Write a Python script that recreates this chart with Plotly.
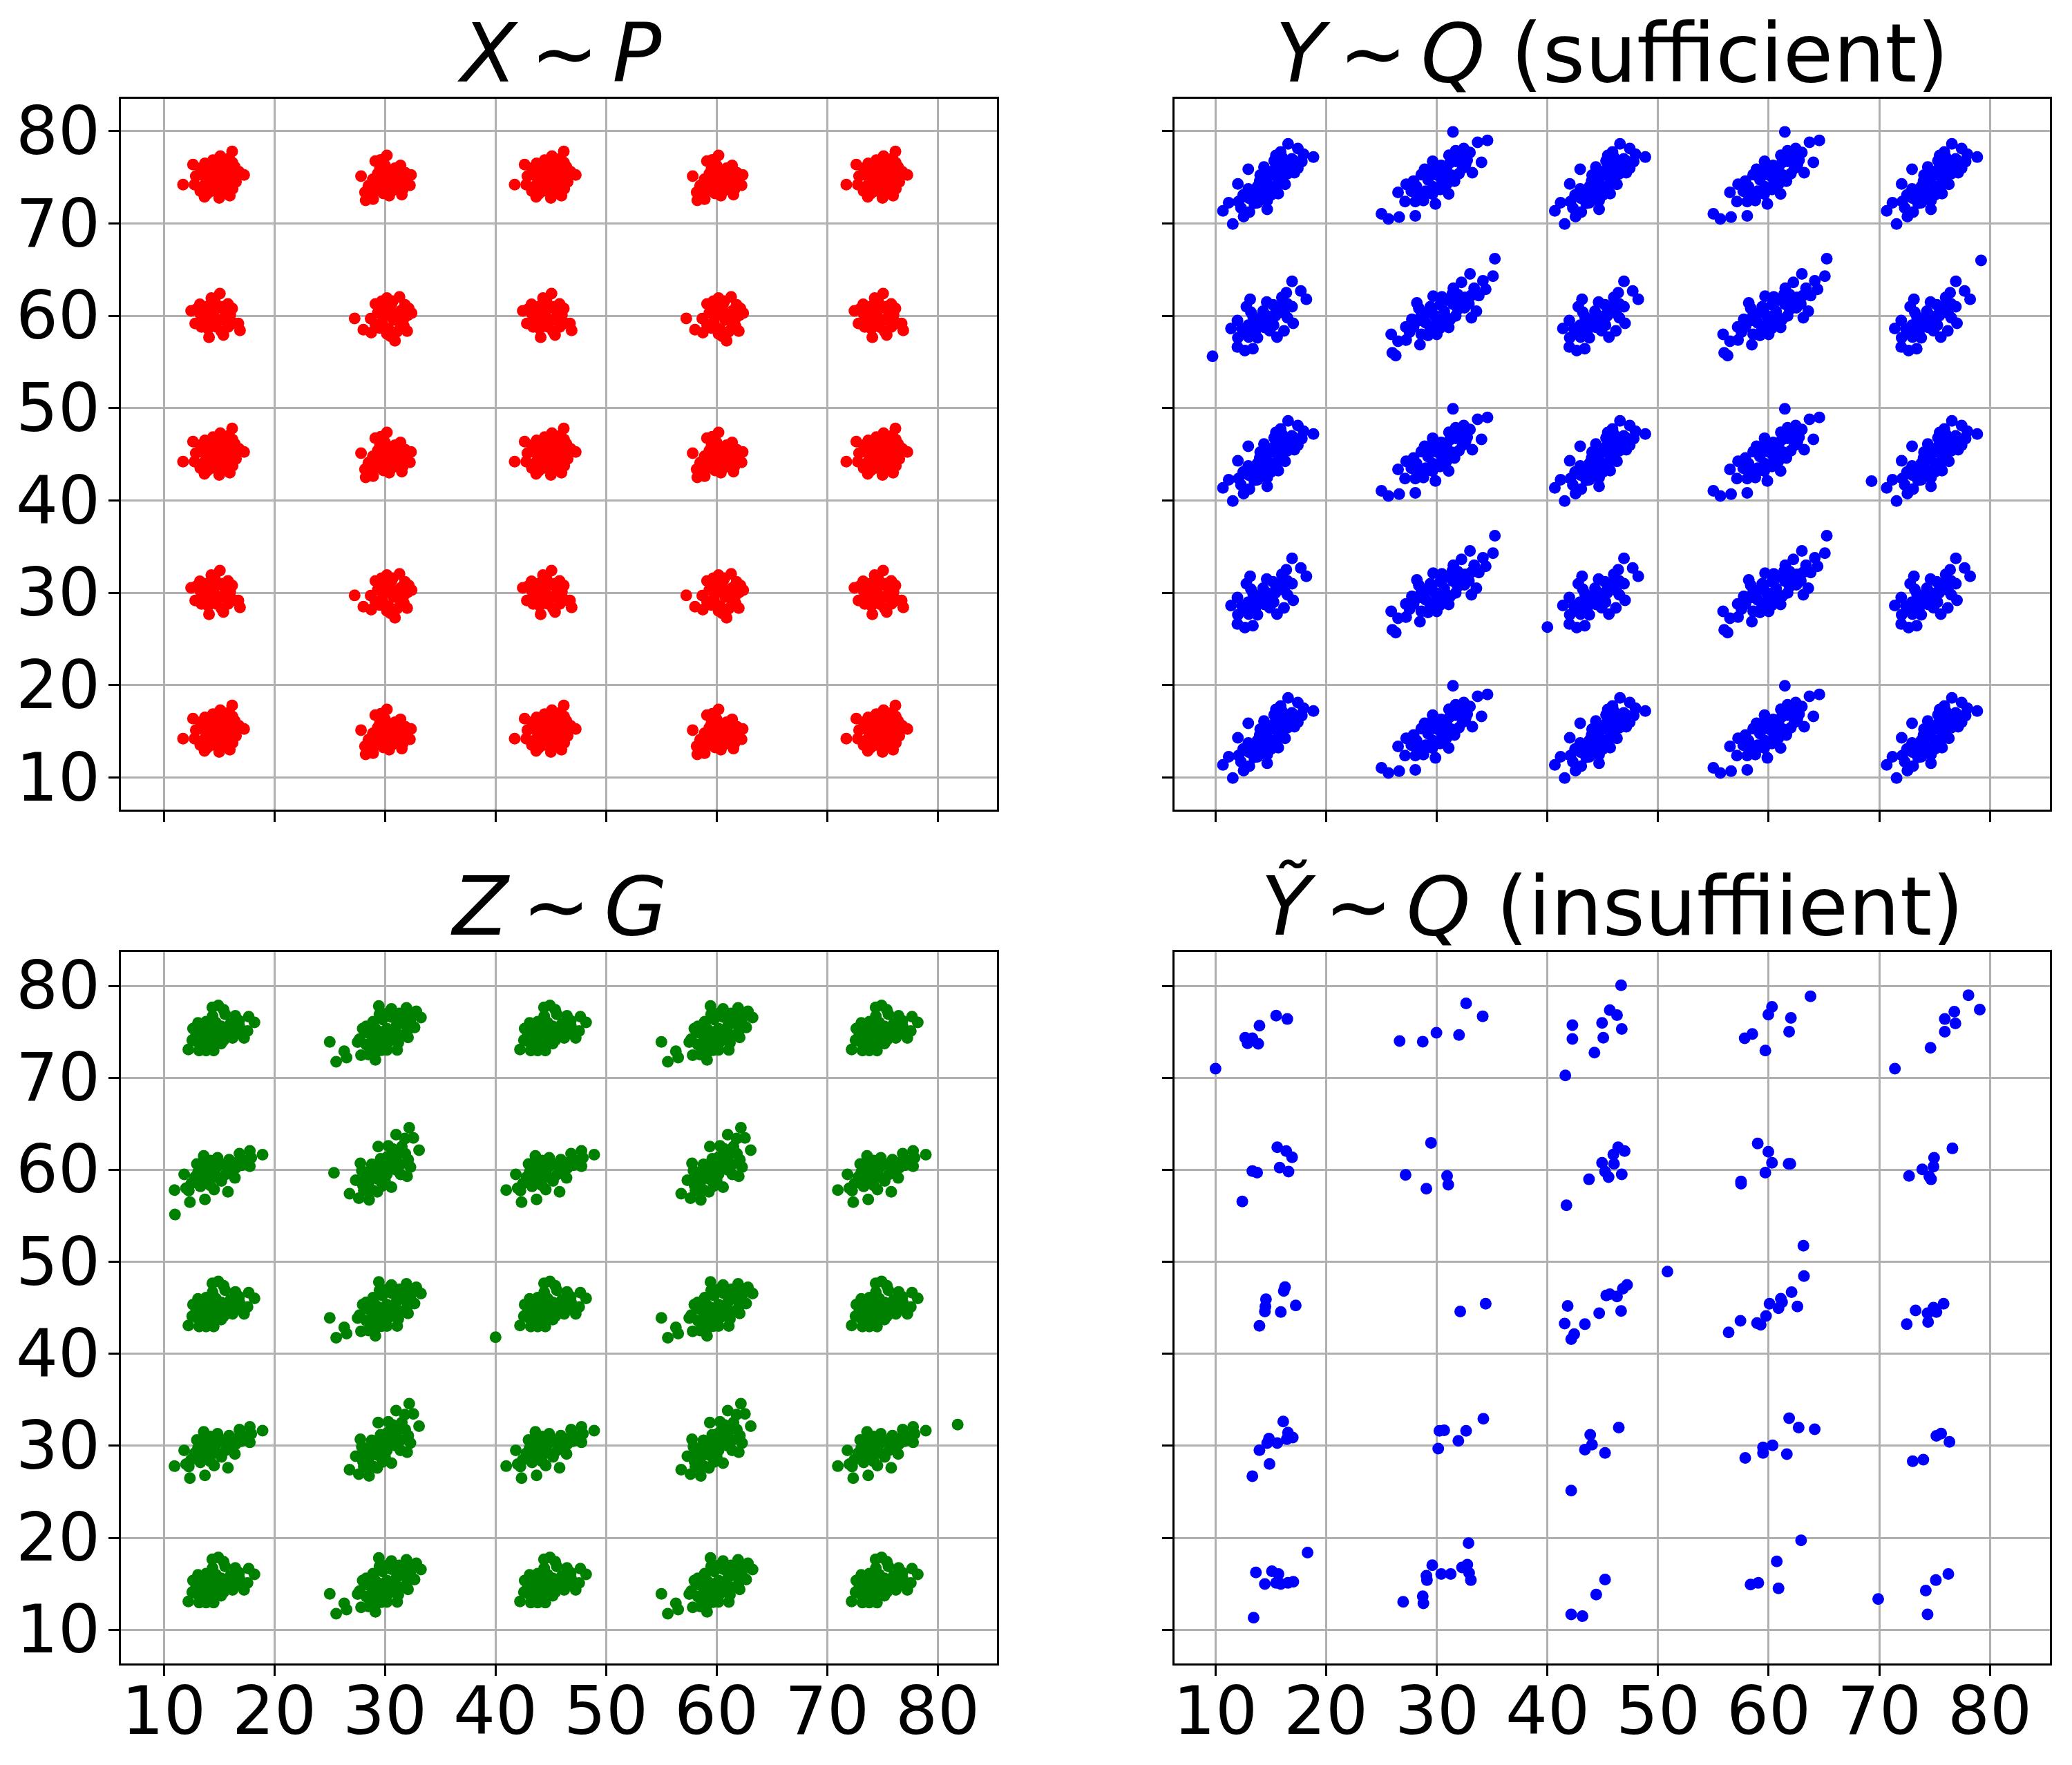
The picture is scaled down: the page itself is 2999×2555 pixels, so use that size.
import plotly.graph_objects as go

# cluster grid (same on both axes)
GRID = [15, 30, 45, 60, 75]

# X ~ P : four cluster shapes read around (15,75), (30,75), (15,60), (30,60)
P_A = [(11.73, 74.21), (12.63, 76.38), (16.17, 77.81), (15.9, 77.06), (17.25, 75.26), (16.42, 76.13),
       (13.67, 72.89), (15.0, 72.77), (15.96, 73.02), (12.77, 74.21), (12.88, 75.14), (14.44, 76.88),
       (13.71, 76.51), (15.17, 76.63), (16.52, 74.51), (16.21, 73.77), (13.29, 73.52), (13.71, 75.76),
       (14.54, 75.76), (15.38, 75.76), (14.13, 74.76), (14.96, 74.76), (15.79, 75.01), (13.71, 74.26),
       (14.54, 74.01), (15.38, 74.26), (14.75, 75.26), (15.58, 76.01), (14.33, 73.52),
       (13.4, 75.3), (13.9, 75.0), (14.2, 75.6), (14.8, 76.2), (15.2, 75.2), (15.7, 74.7), (16.0, 75.5),
       (14.0, 74.3), (14.9, 73.9), (15.6, 73.5), (13.9, 73.2), (16.2, 76.6), (15.1, 77.3), (14.4, 76.4),
       (13.3, 76.0), (16.8, 75.6)]
P_B = [(27.83, 75.14), (29.12, 76.76), (30.17, 77.38), (28.19, 73.39), (28.25, 72.52), (28.92, 72.64),
       (30.38, 73.02), (31.52, 73.14), (32.25, 74.14), (32.35, 75.26), (30.9, 76.0), (29.54, 76.0),
       (29.85, 73.27), (29.54, 74.76), (30.58, 75.01), (31.63, 74.89), (31.21, 74.01), (30.17, 74.01),
       (29.13, 74.01), (30.58, 75.76), (29.33, 75.39), (31.83, 75.51),
       (29.0, 73.4), (29.7, 73.6), (30.7, 73.6), (31.6, 73.7), (31.9, 74.4), (30.9, 74.4), (29.9, 74.5),
       (28.9, 74.8), (30.1, 75.4), (31.2, 75.6), (30.0, 76.3), (31.4, 76.3), (29.6, 76.9), (28.5, 74.1)]
P_C = [(12.46, 60.55), (13.25, 61.25), (14.29, 61.92), (15.06, 62.42), (16.17, 60.8), (16.73, 59.18),
       (16.88, 58.43), (15.38, 57.93), (14.08, 57.68), (12.83, 59.18), (13.4, 58.8), (15.8, 58.8),
       (13.71, 60.55), (14.75, 60.8), (15.58, 60.3), (14.13, 59.55), (15.17, 59.55), (14.33, 61.3),
       (15.79, 61.3), (14.75, 58.8), (13.5, 59.8),
       (13.3, 60.2), (13.9, 61.0), (14.6, 61.6), (15.3, 61.0), (16.0, 60.1), (15.7, 59.6), (14.5, 60.1),
       (14.0, 58.6), (15.2, 58.3), (16.3, 59.2), (12.9, 60.7), (14.6, 59.0)]
P_D = [(27.25, 59.73), (28.04, 58.5), (28.75, 58.18), (29.13, 61.3), (30.17, 61.92), (31.31, 62.05),
       (32.15, 60.8), (32.04, 60.05), (32.0, 58.35), (30.9, 57.31), (30.17, 58.05), (31.42, 58.8),
       (29.33, 60.3), (30.38, 60.8), (31.42, 60.55), (29.75, 59.3), (30.79, 59.55), (29.13, 59.05),
       (31.63, 59.55), (30.58, 61.3),
       (29.7, 61.6), (30.7, 61.6), (31.8, 61.2), (31.8, 59.9), (31.0, 60.2), (30.0, 60.0), (29.7, 60.8),
       (29.5, 58.7), (30.3, 58.6), (31.1, 58.3), (31.7, 58.9), (30.5, 57.8), (28.7, 59.7), (32.4, 60.3)]
P_EXTRA = []

# Y ~ Q (sufficient)
Q_A = [(10.67, 71.38), (11.19, 72.25), (11.56, 69.95), (12.54, 70.75), (12.08, 72.38), (13.06, 71.25),
       (12.02, 74.3), (12.96, 75.88), (14.38, 76.13), (14.67, 71.55), (13.79, 72.25), (16.56, 78.63),
       (17.44, 78.13), (17.96, 77.5), (18.85, 77.2), (15.46, 77.38), (15.88, 77.75), (17.13, 75.5),
       (17.44, 76.0), (16.29, 74.25), (15.67, 73.25), (12.96, 73.75), (13.79, 74.0), (14.63, 74.5),
       (15.25, 75.25), (15.88, 76.0), (16.29, 76.75), (13.58, 73.0), (14.42, 73.25), (15.04, 74.0),
       (15.46, 76.25), (16.71, 76.25), (14.04, 75.25), (13.0, 72.75), (14.67, 72.5),
       (12.5, 73.1), (13.3, 73.5), (14.0, 73.9), (14.4, 74.9), (14.9, 75.6), (15.5, 75.9), (16.1, 76.4),
       (16.9, 77.0), (13.5, 72.2), (14.1, 72.6), (15.0, 73.1), (15.6, 74.2), (16.0, 75.0), (16.5, 75.4),
       (17.1, 76.8), (12.3, 71.7), (14.0, 74.6), (15.3, 76.8), (16.0, 77.2), (17.8, 76.7)]
Q_B = [(25.0, 71.05), (25.63, 70.5), (26.6, 70.7), (28.06, 70.83), (26.5, 73.38), (27.23, 74.25),
       (27.13, 72.38), (28.06, 72.38), (28.79, 72.5), (29.88, 72.13), (31.08, 73.2), (30.46, 74.25),
       (31.46, 79.93), (33.69, 78.8), (34.58, 79.0), (34.04, 76.63), (33.21, 75.5), (32.44, 78.13),
       (32.75, 76.88), (31.71, 77.88), (29.63, 76.75), (28.9, 75.88), (28.17, 74.0), (29.21, 74.75),
       (30.04, 75.25), (30.88, 76.0), (31.71, 76.75), (29.63, 74.0), (30.46, 74.75), (31.29, 75.25),
       (28.58, 73.25), (29.63, 76.0), (32.33, 76.0),
       (27.7, 73.5), (28.3, 73.0), (29.0, 73.5), (29.6, 73.2), (30.3, 73.7), (30.9, 74.3), (31.6, 74.6),
       (32.0, 75.4), (32.6, 76.4), (31.2, 76.6), (30.4, 76.3), (29.3, 75.8), (28.6, 75.3), (27.9, 74.6),
       (31.1, 77.4), (32.2, 77.2), (33.0, 77.7), (29.9, 75.6), (28.8, 72.9), (30.8, 75.6)]
Q_C = [(11.98, 56.63), (12.65, 56.25), (13.38, 56.45), (12.02, 57.63), (11.4, 58.63), (11.98, 59.5),
       (12.79, 61.0), (13.13, 61.8), (16.92, 63.75), (17.71, 62.7), (18.21, 61.8), (17.02, 59.2),
       (16.92, 61.0), (15.56, 57.7), (16.19, 58.38), (13.79, 57.63), (14.63, 61.5), (16.0, 62.0),
       (12.96, 59.0), (13.79, 59.5), (14.63, 60.0), (15.46, 60.5), (15.88, 61.0), (14.42, 58.75),
       (15.25, 59.0), (13.58, 58.25), (12.75, 58.25), (15.0, 59.75),
       (13.0, 57.7), (13.6, 58.9), (14.1, 59.6), (14.8, 59.3), (15.4, 60.0), (16.2, 60.3), (16.5, 61.3),
       (15.2, 61.2), (14.3, 60.5), (13.4, 59.9), (12.4, 58.6), (14.9, 58.4), (16.5, 59.8), (13.2, 60.4),
       (16.4, 62.5)]
Q_D = [(25.88, 58.0), (25.98, 56.0), (26.29, 55.7), (26.5, 57.25), (27.23, 57.38), (27.54, 58.25),
       (28.48, 56.88), (29.21, 57.88), (27.75, 59.63), (28.38, 60.83), (29.67, 62.13), (30.46, 62.05),
       (31.4, 62.38), (32.23, 63.63), (33.0, 64.55), (34.17, 63.8), (35.25, 66.2), (35.08, 64.3),
       (34.42, 62.88), (33.58, 60.5), (33.13, 59.8), (32.5, 60.88), (31.08, 58.75), (30.25, 58.63),
       (29.0, 60.25), (29.83, 60.0), (30.67, 60.5), (31.5, 61.25), (29.0, 59.25), (29.83, 59.0),
       (28.38, 59.5), (31.71, 60.0), (32.54, 62.0), (33.38, 63.0), (29.42, 61.0),
       (28.6, 58.0), (29.4, 58.5), (30.5, 59.2), (31.2, 59.6), (31.9, 60.7), (32.9, 61.3), (33.1, 62.2),
       (31.9, 62.3), (30.9, 61.7), (30.3, 61.2), (29.5, 60.6), (28.6, 60.1), (27.9, 58.8), (27.2, 58.8),
       (30.0, 58.0), (32.0, 61.5), (33.8, 62.2), (31.5, 63.0), (28.2, 61.4), (30.8, 59.9)]
Q_EXTRA = [(9.73, 55.63), (69.3, 42.1), (79.2, 66.0), (40.0, 26.3)]

# Z ~ G
G_A = [(12.21, 73.08), (13.19, 72.96), (13.81, 72.96), (14.5, 72.96), (12.56, 74.09), (12.63, 75.35),
       (13.08, 75.97), (13.81, 76.1), (14.38, 77.66), (14.92, 77.86), (15.54, 76.9), (16.46, 76.73),
       (17.67, 76.65), (18.19, 76.03), (17.56, 75.09), (17.25, 74.34), (16.21, 74.34), (15.17, 73.71),
       (13.5, 74.84), (14.33, 75.09), (15.17, 75.6), (16.0, 75.85), (16.83, 75.6), (13.92, 74.09),
       (14.75, 74.34), (15.58, 74.84), (16.42, 75.09), (13.08, 73.84),
       (13.3, 74.4), (13.6, 75.6), (14.1, 75.8), (14.7, 76.0), (15.0, 75.0), (15.8, 75.2), (16.2, 75.8),
       (16.8, 76.2), (17.0, 74.9), (15.9, 74.6), (15.4, 74.1), (14.3, 73.6), (13.6, 73.3), (12.9, 74.6),
       (14.4, 76.7), (15.4, 77.4)]
G_B = [(25.0, 73.91), (25.58, 71.75), (26.31, 72.88), (26.52, 72.2), (27.52, 73.89), (27.83, 72.45),
       (28.5, 72.53), (29.13, 71.95), (29.13, 72.7), (29.44, 77.81), (30.58, 77.48), (31.94, 77.6),
       (32.83, 77.23), (33.25, 76.55), (32.67, 75.47), (32.08, 74.39), (31.1, 73.03), (30.17, 73.03),
       (27.98, 75.35), (28.92, 76.1), (29.75, 76.35), (30.58, 76.6), (31.42, 76.6), (29.33, 75.1),
       (30.17, 75.35), (31.0, 75.6), (31.83, 75.85), (28.92, 74.09), (29.75, 74.09), (30.58, 74.34),
       (31.42, 74.59), (28.5, 74.84),
       (28.3, 73.6), (29.0, 73.4), (29.7, 73.0), (30.3, 73.9), (31.2, 73.8), (32.0, 75.1), (32.3, 76.3),
       (31.3, 77.0), (30.2, 77.0), (29.5, 76.9), (29.0, 75.5), (30.0, 74.9), (30.9, 75.1), (28.3, 75.6),
       (27.7, 74.2), (31.9, 76.9)]
G_C = [(10.96, 57.79), (12.35, 56.48), (13.71, 56.78), (11.83, 59.5), (12.25, 57.74), (12.98, 60.63),
       (13.6, 61.51), (14.85, 61.31), (15.79, 57.61), (16.83, 61.76), (17.77, 62.06), (18.92, 61.64),
       (17.77, 60.38), (16.42, 59.12), (14.54, 57.86), (13.08, 59.75), (13.92, 60.0), (14.75, 60.25),
       (15.58, 60.5), (16.42, 60.75), (13.08, 58.74), (13.92, 58.99), (14.75, 59.25), (15.58, 59.5),
       (12.46, 58.49), (17.04, 60.5),
       (13.6, 59.4), (14.3, 59.7), (15.0, 60.8), (15.9, 61.1), (16.5, 60.2), (17.3, 61.0), (16.0, 59.8),
       (15.2, 58.8), (14.2, 58.3), (13.3, 58.2), (12.8, 59.2), (13.6, 60.6), (14.2, 61.0), (17.9, 61.3),
       (12.0, 58.0)]
G_D = [(26.79, 57.41), (27.63, 56.91), (28.56, 56.73), (27.35, 58.87), (27.77, 60.7), (29.38, 62.52),
       (31.0, 63.82), (32.19, 64.58), (32.56, 63.47), (33.08, 62.14), (32.0, 59.3), (30.58, 58.11),
       (30.69, 62.26), (31.52, 62.52), (28.5, 59.75), (29.33, 60.25), (30.17, 60.75), (31.0, 61.26),
       (31.83, 61.76), (28.5, 58.49), (29.33, 58.99), (30.17, 59.5), (31.0, 60.0), (28.08, 57.74),
       (28.92, 57.74), (29.75, 58.24),
       (28.2, 59.0), (28.9, 59.4), (29.7, 59.7), (30.6, 60.3), (31.4, 60.6), (32.1, 61.1), (31.0, 62.0),
       (30.2, 61.4), (29.6, 61.2), (28.8, 60.6), (28.0, 58.3), (29.3, 57.6), (30.0, 58.8), (31.4, 59.5),
       (32.3, 60.3), (30.3, 62.6), (31.8, 63.4), (27.9, 59.9)]
G_EXTRA = [(11.0, 55.14), (25.38, 59.67), (81.8, 32.3), (40.0, 41.8)]

# Y~ ~ Q (insufficient): every point read individually
QT = [
    # row 75
    (10.0, 70.99), (12.68, 74.35), (12.9, 73.75), (13.33, 74.29), (13.86, 73.69), (13.97, 75.67),
    (15.48, 76.75), (16.49, 76.39),
    (26.64, 73.99), (28.73, 73.93), (29.97, 74.89), (32.01, 74.65), (32.65, 78.08), (34.15, 76.69),
    (41.62, 70.26), (42.26, 75.73), (42.26, 74.23), (44.25, 72.73), (44.94, 75.97), (45.05, 74.35),
    (45.64, 77.36), (46.29, 76.81), (46.72, 75.31), (46.66, 80.06),
    (57.83, 74.29), (58.52, 74.77), (59.7, 72.97), (59.97, 76.87), (60.3, 77.72), (61.85, 75.01),
    (62.01, 76.51), (63.78, 78.86),
    (71.41, 70.99), (74.63, 73.27), (75.92, 75.01), (75.92, 76.39), (76.88, 75.91), (76.78, 77.18),
    (78.06, 78.98), (79.08, 77.42),
    # row 60
    (12.42, 56.56), (13.33, 59.87), (13.76, 59.69), (15.58, 62.45), (15.8, 60.23), (16.39, 62.03),
    (16.6, 59.81), (16.92, 61.37),
    (27.18, 59.45), (29.06, 57.95), (29.48, 62.93), (30.93, 59.33), (31.04, 58.37),
    (41.72, 56.14), (43.76, 58.97), (44.94, 60.77), (45.21, 59.81), (45.53, 59.21), (45.96, 61.67),
    (46.02, 60.65), (46.39, 62.45), (46.72, 59.51), (46.98, 62.03),
    (57.5, 58.49), (57.5, 58.73), (59.01, 62.87), (59.7, 59.69), (59.97, 61.97), (60.3, 60.77),
    (61.8, 60.65), (61.96, 60.65),
    (72.69, 59.33), (73.88, 60.05), (74.52, 59.27), (74.68, 58.97), (74.9, 60.35), (74.95, 61.31),
    (76.61, 62.33),
    # row 45
    (13.97, 43.04), (14.46, 44.6), (14.51, 45.14), (14.56, 45.93), (15.9, 44.54), (16.17, 46.83),
    (16.28, 47.25), (17.25, 45.26),
    (32.12, 44.6), (34.42, 45.44),
    (41.56, 43.28), (41.83, 45.2), (42.15, 41.6), (42.42, 42.14), (43.39, 43.22), (44.68, 44.42),
    (45.32, 46.35), (45.64, 46.47), (46.29, 46.23), (46.66, 44.66), (46.82, 47.07), (47.2, 47.49),
    (50.85, 48.93),
    (56.38, 42.32), (57.45, 43.58), (58.95, 43.34), (59.28, 43.16), (59.76, 44.12), (60.08, 45.44),
    (60.89, 44.96), (61.1, 45.99), (61.21, 45.62), (62.07, 46.71), (62.6, 45.14), (63.19, 48.45),
    (63.14, 51.76),
    (72.48, 43.22), (73.28, 44.72), (74.36, 44.42), (74.41, 43.46), (74.9, 45.02), (75.16, 44.54),
    (75.81, 45.44),
    # row 30
    (13.33, 26.7), (13.97, 29.52), (14.67, 30.3), (14.88, 28.02), (14.83, 30.78), (15.58, 30.3),
    (16.12, 32.64), (16.44, 30.72), (16.55, 31.44), (16.98, 30.9),
    (30.13, 29.7), (30.24, 31.62), (30.67, 31.68), (31.95, 30.54), (32.65, 31.62), (34.21, 32.94),
    (42.15, 25.13), (43.39, 29.58), (43.87, 31.2), (44.03, 30.12), (45.21, 29.22), (46.45, 31.98),
    (57.88, 28.68), (59.49, 29.82), (59.49, 29.22), (60.35, 30.06), (61.64, 29.1), (61.85, 33.0),
    (62.71, 31.98), (64.16, 31.8),
    (73.02, 28.32), (73.98, 28.5), (75.16, 31.08), (75.59, 31.32), (76.34, 30.42),
    # row 15
    (13.44, 11.31), (13.65, 16.24), (14.46, 14.98), (15.1, 16.36), (15.48, 15.1), (15.69, 16.06),
    (15.9, 14.98), (16.55, 15.1), (17.03, 15.22), (18.32, 18.4),
    (26.96, 13.05), (28.73, 13.65), (28.79, 12.87), (29.06, 15.88), (29.11, 15.4), (29.59, 17.02),
    (30.4, 16.06), (31.26, 16.06), (32.28, 16.78), (32.76, 17.08), (32.87, 19.42), (33.08, 15.4),
    (32.92, 16.18),
    (42.15, 11.67), (43.17, 11.49), (44.41, 13.83), (45.21, 15.46),
    (58.36, 14.92), (59.06, 15.1), (60.73, 17.44), (60.89, 14.5), (62.93, 19.72),
    (69.9, 13.35), (74.2, 14.26), (74.36, 11.67), (75.11, 15.4), (76.24, 16.06),
]

TICKS = [10, 20, 30, 40, 50, 60, 70, 80]
TICK_TEXT = [str(t) for t in TICKS]
SIM = "\u2006∼\u2006"
TITLES = ["<i>X</i>" + SIM + "<i>P</i>", "<i>Y</i>" + SIM + "<i>Q</i> (sufficient)",
          "<i>Z</i>" + SIM + "<i>G</i>", "<i>Ỹ</i>" + SIM + "<i>Q</i> (insuffiient)"]


def spread(a, b, c, d, extra):
    """Place the four read cluster shapes over the 5x5 grid."""
    shapes = {(0, 0): (15, 75, a), (1, 0): (30, 75, b), (0, 1): (15, 60, c), (1, 1): (30, 60, d)}
    xs, ys = [], []
    for i, cx in enumerate(GRID):
        for j, cy in enumerate(GRID):
            tx, ty, pts = shapes[(i % 2, (len(GRID) - 1 - j) % 2)]
            for x, y in pts:
                xs.append(cx + x - tx)
                ys.append(cy + y - ty)
    for x, y in extra:
        xs.append(x)
        ys.append(y)
    return xs, ys


px, py = spread(P_A, P_B, P_C, P_D, P_EXTRA)
qx, qy = spread(Q_A, Q_B, Q_C, Q_D, Q_EXTRA)
gx, gy = spread(G_A, G_B, G_C, G_D, G_EXTRA)
tx = [p[0] for p in QT]
ty = [p[1] for p in QT]

# page is 2999x2555; the html body keeps an 8px margin around the figure
PAD = 8
W, H = 2999 - 2 * PAD, 2555 - 2 * PAD


def xdom(left, right):
    return [(left - PAD) / W, (right - PAD) / W]


def ydom(top, bottom):
    return [1 - (bottom - PAD) / H, 1 - (top - PAD) / H]


COL1, COL2 = xdom(175.2, 1443.4), xdom(1700.1, 2966.7)
ROW1, ROW2 = ydom(143.3, 1171.7), ydom(1378.3, 2408.3)
XR1, XR2 = [6.12, 85.38], [6.30, 85.40]
YR1, YR2 = [6.55, 83.49], [6.32, 83.66]

fig = go.Figure()
for n, (x, y, col) in enumerate([(px, py, "#ff0000"), (qx, qy, "#0000ff"),
                                 (gx, gy, "#008000"), (tx, ty, "#0000ff")]):
    ax = "" if n == 0 else str(n + 1)
    fig.add_trace(go.Scatter(x=x, y=y, mode="markers", xaxis="x" + ax, yaxis="y" + ax,
                             marker=dict(size=17, color=col, line=dict(width=0)),
                             showlegend=False))

axis = dict(
    showgrid=True, gridcolor="#b0b0b0", gridwidth=3,
    showline=True, linecolor="black", linewidth=3.3, mirror=True,
    ticks="outside", ticklen=15, tickwidth=3.3, tickcolor="black",
    tickmode="array", tickvals=TICKS, zeroline=False, showticklabels=False,
)

fig.update_layout(
    width=W, height=H,
    margin=dict(l=0, r=0, t=0, b=0),
    paper_bgcolor="white", plot_bgcolor="white",
    font=dict(family="DejaVu Sans", color="black"),
    xaxis=dict(axis, domain=COL1, range=XR1, anchor="y"),
    yaxis=dict(axis, domain=ROW1, range=YR1, anchor="x"),
    xaxis2=dict(axis, domain=COL2, range=XR2, anchor="y2"),
    yaxis2=dict(axis, domain=ROW1, range=YR1, anchor="x2"),
    xaxis3=dict(axis, domain=COL1, range=XR1, anchor="y3"),
    yaxis3=dict(axis, domain=ROW2, range=YR2, anchor="x3"),
    xaxis4=dict(axis, domain=COL2, range=XR2, anchor="y4"),
    yaxis4=dict(axis, domain=ROW2, range=YR2, anchor="x4"),
)

tick_font = dict(family="DejaVu Sans", size=96, color="black")
# y tick labels on the left column, x tick labels on the bottom row
for yref, dom in [("y", COL1), ("y3", COL1)]:
    for v, t in zip(TICKS, TICK_TEXT):
        fig.add_annotation(text=t, xref="paper", yref=yref, x=dom[0], y=v,
                           xanchor="right", yanchor="middle", xshift=-28,
                           showarrow=False, font=tick_font)
for xref, dom in [("x3", ROW2), ("x4", ROW2)]:
    for v, t in zip(TICKS, TICK_TEXT):
        fig.add_annotation(text=t, xref=xref, yref="paper", x=v, y=dom[0],
                           xanchor="center", yanchor="top", yshift=-11,
                           showarrow=False, font=tick_font)

for title, dom_x, dom_y in zip(TITLES, [COL1, COL2, COL1, COL2], [ROW1, ROW1, ROW2, ROW2]):
    fig.add_annotation(text=title, xref="paper", yref="paper",
                       x=(dom_x[0] + dom_x[1]) / 2, y=dom_y[1],
                       xanchor="center", yanchor="bottom", yshift=-5, showarrow=False,
                       font=dict(family="DejaVu Sans", size=118, color="black"))

fig.write_html("out.html")
